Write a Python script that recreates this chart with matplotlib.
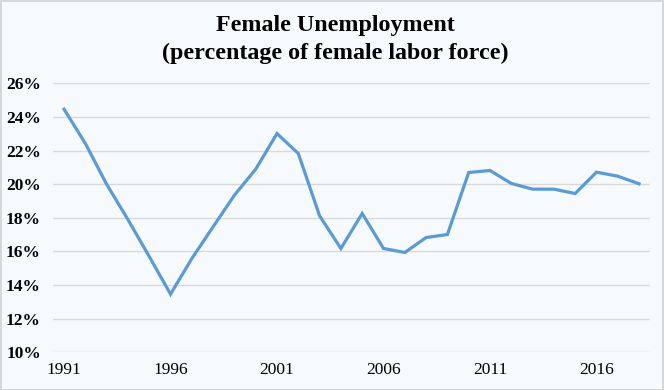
import matplotlib.pyplot as plt
from matplotlib.patches import Rectangle

years = list(range(1991, 2019))
rate = [24.47, 22.43, 20.0, 17.9, 15.7, 13.46, 15.58, 17.47, 19.35, 20.9,
        23.02, 21.83, 18.12, 16.18, 18.26, 16.18, 15.94, 16.83, 17.01, 20.7,
        20.82, 20.05, 19.71, 19.71, 19.45, 20.72, 20.48, 20.03]
yticks = [10, 12, 14, 16, 18, 20, 22, 24, 26]
xticks = [1991, 1996, 2001, 2006, 2011, 2016]

bg = '#F7FAFD'
plt.rcParams['font.family'] = ['Liberation Serif', 'DejaVu Serif']

fig = plt.figure(figsize=(6.64, 3.90), dpi=100, facecolor=bg)
ax = fig.add_axes([0.0804, 0.0967, 0.8981, 0.6893])
ax.set_facecolor(bg)

ax.plot(years, rate, color='#5B9BD5', linewidth=2.3, solid_joinstyle='miter', zorder=3)

ax.set_xlim(1990.5, 2018.5)
ax.set_ylim(10, 26)
ax.set_yticks(yticks)
ax.set_yticklabels([f'{v}%' for v in yticks], fontweight='bold', fontsize=12.5)
ax.set_xticks(xticks)
ax.set_xticklabels([str(v) for v in xticks], fontsize=12.5)
ax.tick_params(axis='x', length=0, pad=7)
ax.tick_params(axis='y', length=0, pad=9)
ax.grid(axis='y', color='#D9D9D9', linewidth=1)
for s in ax.spines.values():
    s.set_visible(False)

fig.text(0.505, 0.935, 'Female Unemployment', ha='center', va='center',
         fontsize=17.3, fontweight='bold')
fig.text(0.505, 0.864, '(percentage of female labor force)', ha='center', va='center',
         fontsize=17.3, fontweight='bold')

fig.patches.append(Rectangle((0.001, 0.001), 0.997, 0.996, transform=fig.transFigure,
                             fill=False, edgecolor='#D0D0D0', linewidth=1.2))

fig.savefig('out.png', dpi=100, facecolor=bg)
